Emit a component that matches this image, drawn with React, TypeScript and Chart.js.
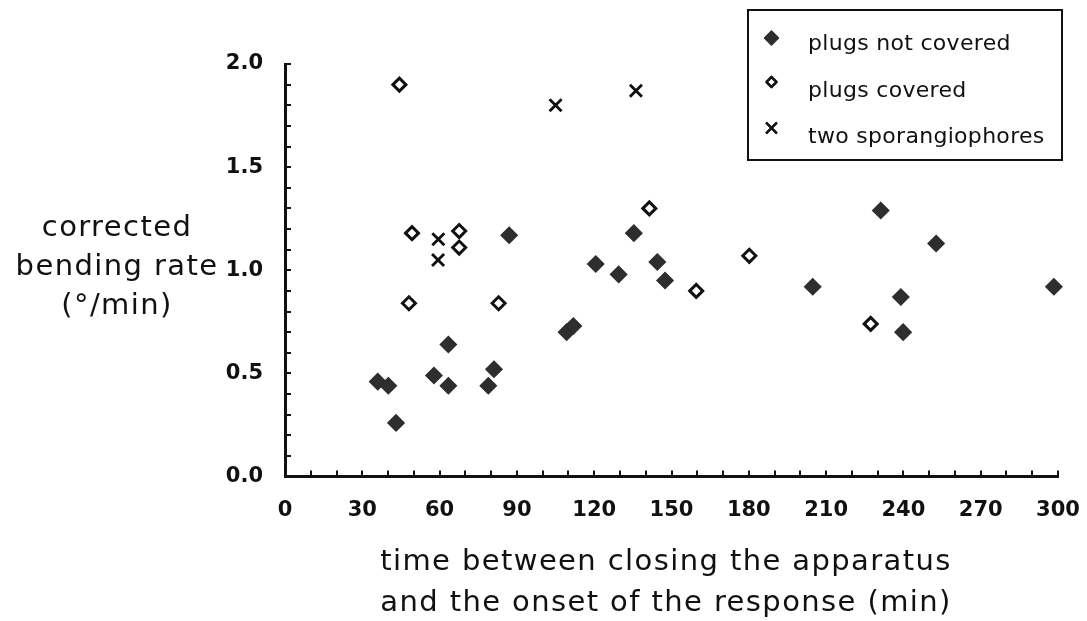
import React, { useEffect, useRef } from 'react';
import { Chart, registerables } from 'chart.js';

Chart.register(...registerables);

// ---- data ----
const seriesNames = ['plugs not covered', 'plugs covered', 'two sporangiophores'];

const notCoveredX = [36.0, 40.1, 43.1, 57.8, 63.4, 63.4, 78.9, 81.1, 87.0, 109.3, 111.9, 120.6, 129.5, 135.4, 144.5, 147.5, 204.8, 231.2, 252.7, 239.0, 239.9, 298.4];
const notCoveredY = [0.46, 0.44, 0.26, 0.49, 0.64, 0.44, 0.44, 0.52, 1.17, 0.70, 0.73, 1.03, 0.98, 1.18, 1.04, 0.95, 0.92, 1.29, 1.13, 0.87, 0.70, 0.92];

const coveredX = [44.4, 49.3, 67.6, 67.6, 48.1, 82.9, 141.4, 180.2, 159.6, 227.3];
const coveredY = [1.90, 1.18, 1.19, 1.11, 0.84, 0.84, 1.30, 1.07, 0.90, 0.74];

const twoSporX = [105.0, 136.2, 59.5, 59.4];
const twoSporY = [1.80, 1.87, 1.15, 1.05];

const xTickLabels = ['0', '30', '60', '90', '120', '150', '180', '210', '240', '270', '300'];
const yTickLabels = ['0.0', '0.5', '1.0', '1.5', '2.0'];

const xTitleLines = ['time between closing the apparatus', 'and the onset of the response (min)'];
const yTitleLines = ['corrected', 'bending rate', '(\u00b0/min)'];

const FONT = '"DejaVu Sans", sans-serif';
const INK = '#111';
const FILL = '#2e2e2e';

const toPoints = (xs: number[], ys: number[]) => xs.map((x, i) => ({ x, y: ys[i] }));

const titlesPlugin = {
  id: 'customTitles',
  afterDraw(chart: any) {
    const ctx = chart.ctx as CanvasRenderingContext2D;
    ctx.save();
    ctx.fillStyle = INK;
    ctx.font = `29px ${FONT}`;
    (ctx as any).letterSpacing = '1.4px';
    ctx.textAlign = 'center';
    ctx.textBaseline = 'alphabetic';
    yTitleLines.forEach((t, i) => ctx.fillText(t, 117, 236 + 39 * i));
    xTitleLines.forEach((t, i) => ctx.fillText(t, 666, 570 + 41 * i));

    // legend box
    ctx.strokeStyle = INK;
    ctx.lineWidth = 2;
    ctx.strokeRect(748, 10, 314, 150);
    ctx.font = `22px ${FONT}`;
    (ctx as any).letterSpacing = '0.3px';
    ctx.textAlign = 'left';
    const mx = 771.5;
    const rows = [38, 82, 128];
    const bases = [50, 97, 143];
    seriesNames.forEach((name, i) => {
      const my = rows[i];
      ctx.beginPath();
      if (i === 0) {
        const r = 7;
        ctx.moveTo(mx, my - r);
        ctx.lineTo(mx + r, my);
        ctx.lineTo(mx, my + r);
        ctx.lineTo(mx - r, my);
        ctx.closePath();
        ctx.fillStyle = FILL;
        ctx.fill();
        ctx.lineWidth = 1.5;
        ctx.lineJoin = 'round';
        ctx.strokeStyle = FILL;
        ctx.stroke();
      } else if (i === 1) {
        const r = 5;
        ctx.moveTo(mx, my - r);
        ctx.lineTo(mx + r, my);
        ctx.lineTo(mx, my + r);
        ctx.lineTo(mx - r, my);
        ctx.closePath();
        ctx.fillStyle = '#fff';
        ctx.fill();
        ctx.lineWidth = 2.6;
        ctx.strokeStyle = INK;
        ctx.stroke();
      } else {
        const r = 5.5;
        ctx.moveTo(mx - r, my - r);
        ctx.lineTo(mx + r, my + r);
        ctx.moveTo(mx + r, my - r);
        ctx.lineTo(mx - r, my + r);
        ctx.lineWidth = 2.5;
        ctx.strokeStyle = INK;
        ctx.stroke();
      }
      ctx.fillStyle = INK;
      ctx.fillText(name, 808, bases[i]);
    });
    ctx.restore();
  },
};

export default function App() {
  const ref = useRef<HTMLCanvasElement | null>(null);

  useEffect(() => {
    const canvas = ref.current;
    if (!canvas) return;
    const chart = new Chart(canvas, {
      type: 'scatter',
      data: {
        datasets: [
          {
            label: seriesNames[0],
            data: toPoints(notCoveredX, notCoveredY),
            pointStyle: 'rectRot',
            pointRadius: 8,
            backgroundColor: FILL,
            borderColor: FILL,
            borderWidth: 1.5,
            clip: false,
          },
          {
            label: seriesNames[1],
            data: toPoints(coveredX, coveredY),
            pointStyle: 'rectRot',
            pointRadius: 6.5,
            backgroundColor: '#ffffff',
            borderColor: INK,
            borderWidth: 3,
            clip: false,
          },
          {
            label: seriesNames[2],
            data: toPoints(twoSporX, twoSporY),
            pointStyle: 'crossRot',
            pointRadius: 8.5,
            backgroundColor: INK,
            borderColor: INK,
            borderWidth: 2.8,
            clip: false,
          },
        ],
      },
      options: {
        animation: false,
        responsive: false,
        maintainAspectRatio: false,
        layout: { padding: { left: 0, top: 64, right: 29, bottom: 0 } },
        plugins: {
          legend: { display: false },
          tooltip: { enabled: false },
          title: { display: false },
        },
        scales: {
          x: {
            type: 'linear',
            position: 'bottom',
            min: 0,
            max: 300,
            afterFit: (s: any) => {
              s.height = 144.5;
              s.paddingLeft = 0;
              s.paddingRight = 0;
            },
            border: { display: true, color: INK, width: 3 },
            grid: {
              drawOnChartArea: false,
              drawTicks: true,
              tickLength: -6,
              color: INK,
              lineWidth: 2,
            },
            ticks: {
              stepSize: 10,
              autoSkip: false,
              maxRotation: 0,
              padding: 27,
              color: INK,
              font: { family: FONT, size: 21, weight: 'bold' },
              callback: (v: any) => {
                const n = Number(v);
                const idx = Math.round(n / 30);
                return Math.abs(n - idx * 30) < 1e-6 && xTickLabels[idx] !== undefined ? xTickLabels[idx] : '';
              },
            },
          },
          y: {
            type: 'linear',
            min: 0,
            max: 2,
            afterFit: (s: any) => {
              s.width = 285;
              s.paddingTop = 0;
              s.paddingBottom = 0;
            },
            border: { display: true, color: INK, width: 3 },
            grid: {
              drawOnChartArea: false,
              drawTicks: true,
              tickLength: -6,
              color: INK,
              lineWidth: 2,
            },
            ticks: {
              stepSize: 0.1,
              autoSkip: false,
              padding: 28,
              color: INK,
              font: { family: FONT, size: 21, weight: 'bold' },
              callback: (v: any) => {
                const n = Number(v);
                const idx = Math.round(n / 0.5);
                return Math.abs(n - idx * 0.5) < 1e-6 && yTickLabels[idx] !== undefined ? yTickLabels[idx] : '';
              },
            },
          },
        },
      },
      plugins: [titlesPlugin],
    } as any);
    return () => chart.destroy();
  }, []);

  return (
    <div style={{ position: 'absolute', left: 0, top: 0, width: 1087, height: 621, background: '#fff' }}>
      <canvas ref={ref} width={1087} height={621} style={{ display: 'block' }} />
    </div>
  );
}
